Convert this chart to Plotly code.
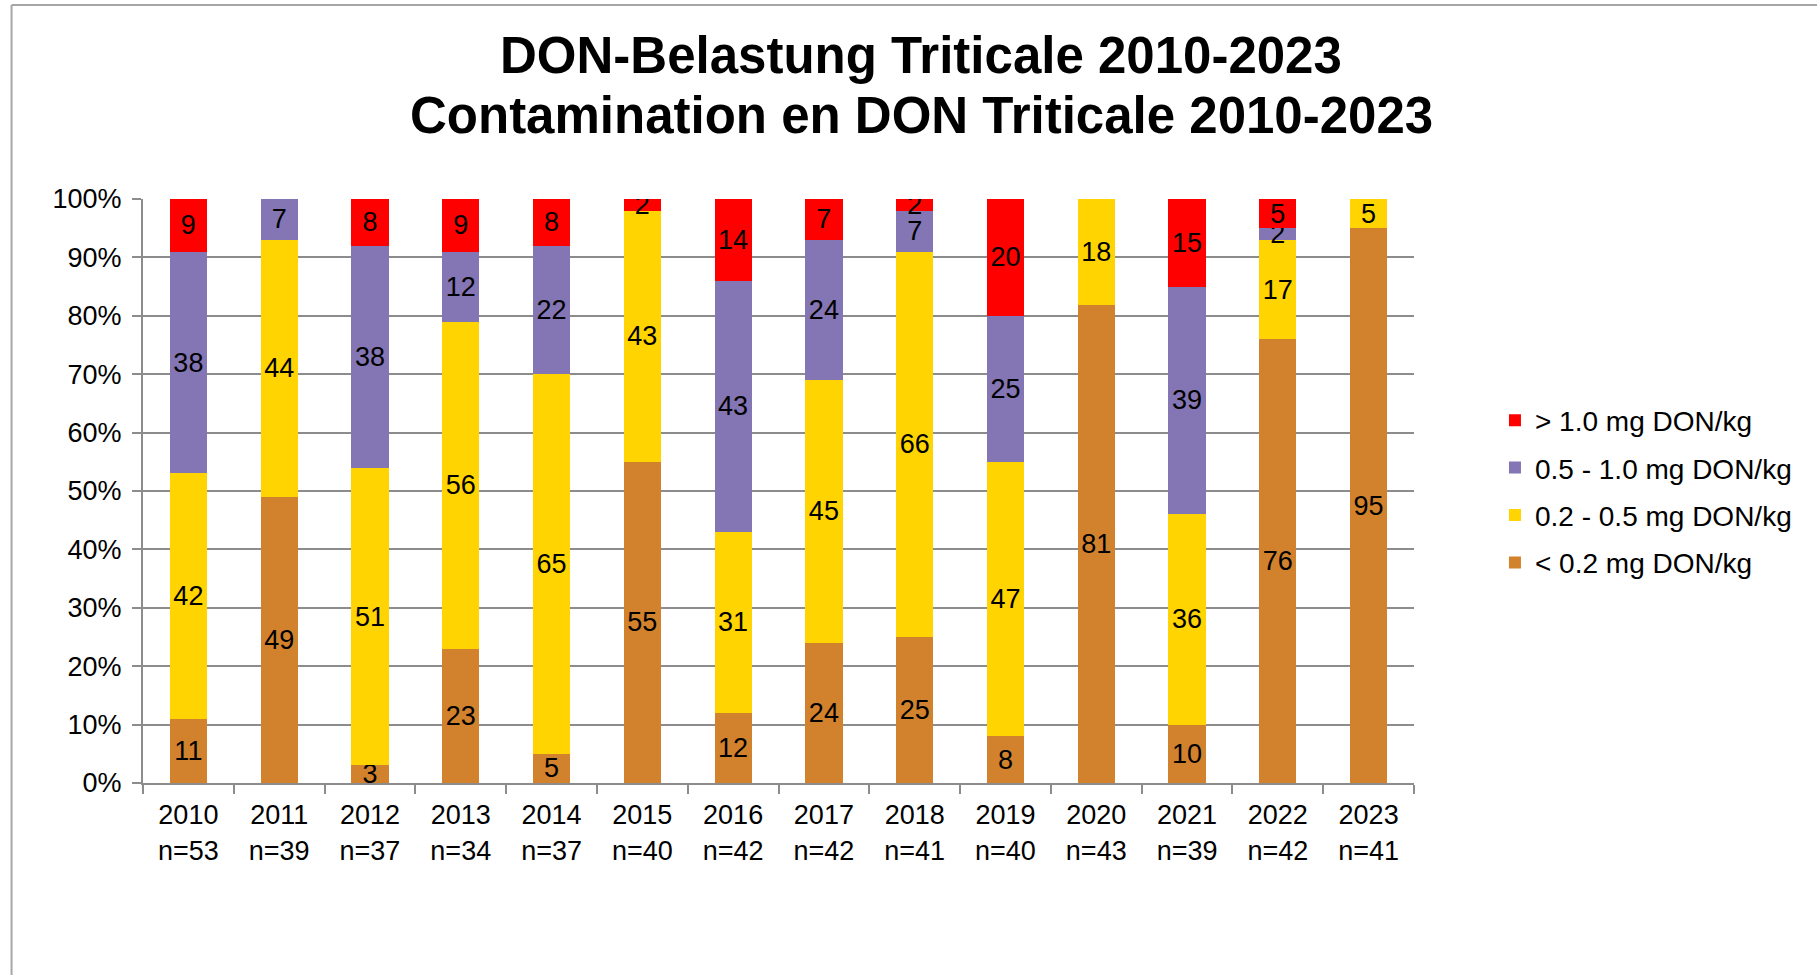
import plotly.graph_objects as go

years = ["2010", "2011", "2012", "2013", "2014", "2015", "2016",
         "2017", "2018", "2019", "2020", "2021", "2022", "2023"]
n_samples = [53, 39, 37, 34, 37, 40, 42, 42, 41, 40, 43, 39, 42, 41]

lt_02 = [11, 49, 3, 23, 5, 55, 12, 24, 25, 8, 81, 10, 76, 95]
r02_05 = [42, 44, 51, 56, 65, 43, 31, 45, 66, 47, 18, 36, 17, 5]
r05_10 = [38, 7, 38, 12, 22, 0, 43, 24, 7, 25, 0, 39, 2, 0]
gt_10 = [9, 0, 8, 9, 8, 2, 14, 7, 2, 20, 0, 15, 5, 0]

title_lines = ["DON-Belastung Triticale 2010-2023",
               "Contamination en DON Triticale 2010-2023"]

series = [
    ("< 0.2 mg DON/kg", lt_02, "#D2822C", 4),
    ("0.2 - 0.5 mg DON/kg", r02_05, "#FFD400", 3),
    ("0.5 - 1.0 mg DON/kg", r05_10, "#8475B4", 2),
    ("> 1.0 mg DON/kg", gt_10, "#FF0000", 1),
]

categories = [f"{y}<br>n={n}" for y, n in zip(years, n_samples)]

FONT = "Liberation Sans, Arial, sans-serif"
W, H = 1817, 975
L, T = 142.5, 199
R = W - 1414
B = H - 783

fig = go.Figure()
for name, vals, color, rank in series:
    fig.add_trace(go.Bar(
        x=categories, y=vals, name=name,
        marker=dict(color=color, line=dict(width=0)),
        text=[str(v) if v else "" for v in vals],
        textposition="inside", insidetextanchor="middle",
        textangle=0, constraintext="none",
        textfont=dict(family=FONT, size=27, color="black"),
        legendgroup=name, legendrank=rank,
    ))

def px_x(p):
    return (p - L) / (W - L - R)

def px_y(p):
    return (H - B - p) / (H - T - B)

grey = "#A6A6A6"
axis_grey = "#8C8C8C"

annotations = [
    dict(text=txt, xref="paper", yref="paper", x=px_x(921), y=px_y(yc),
         xanchor="center", yanchor="middle", showarrow=False,
         font=dict(family=FONT, size=51, color="black", weight="bold"))
    for txt, yc in zip(title_lines, [55.6, 115])
]

fig.update_layout(
    width=W, height=H,
    margin=dict(l=L, r=R, t=T, b=B, autoexpand=False),
    paper_bgcolor="white", plot_bgcolor="white",
    barmode="stack", barnorm="percent", bargap=0.59,
    font=dict(family=FONT, size=27, color="black"),
    annotations=annotations,
    legend=dict(
        x=px_x(1495), xanchor="left", y=px_y(491.5), yanchor="middle",
        traceorder="grouped", tracegroupgap=8,
        font=dict(family=FONT, size=28, color="black"),
        bgcolor="rgba(0,0,0,0)",
    ),
    showlegend=True,
    shapes=[
        dict(type="line", xref="paper", yref="paper",
             x0=px_x(11), x1=px_x(W + 20), y0=px_y(5), y1=px_y(5),
             line=dict(color=grey, width=2)),
        dict(type="line", xref="paper", yref="paper",
             x0=px_x(11), x1=px_x(11), y0=px_y(5), y1=px_y(H + 20),
             line=dict(color=grey, width=2)),
    ],
)

fig.update_yaxes(
    range=[0, 100], dtick=10, ticksuffix="%",
    showgrid=True, gridcolor=axis_grey, gridwidth=1.5,
    showline=True, linecolor=axis_grey, linewidth=2,
    ticks="outside", ticklen=9, tickcolor=axis_grey, tickwidth=2,
    ticklabelstandoff=5,
    tickfont=dict(family=FONT, size=27, color="black"),
    zeroline=False, fixedrange=True,
)
fig.update_xaxes(
    showline=True, linecolor=axis_grey, linewidth=2,
    ticks="outside", tickson="boundaries", ticklen=9,
    tickcolor=axis_grey, tickwidth=2, ticklabelstandoff=7,
    tickfont=dict(family=FONT, size=27, color="black"),
    fixedrange=True,
)

fig.write_html(
    "out.html",
    config={"displayModeBar": False},
    post_script="document.body.style.margin='0px';document.body.style.overflow='hidden';",
)
